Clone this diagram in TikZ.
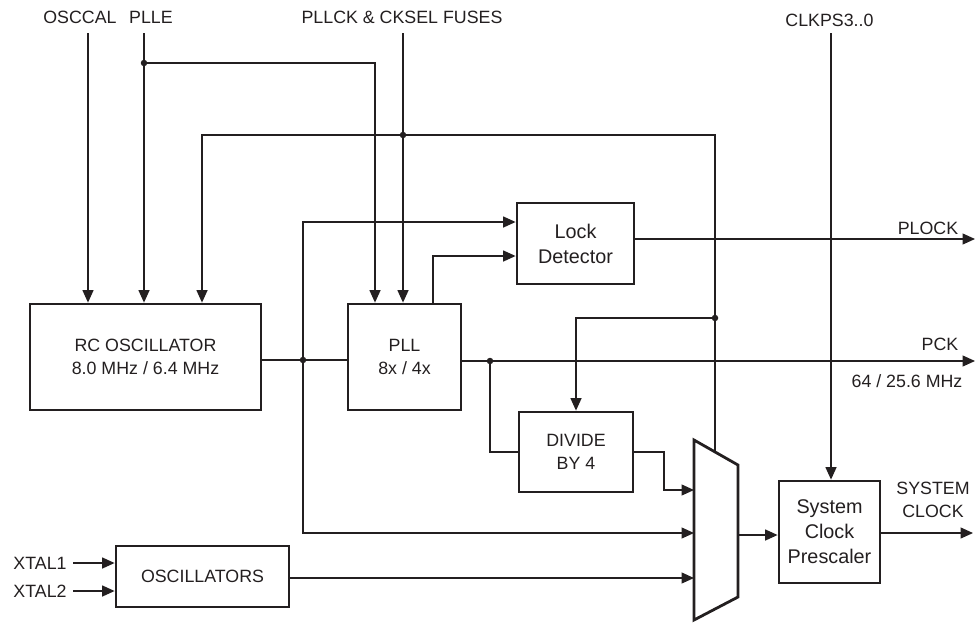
\documentclass[tikz,border=0pt]{standalone}
\usepackage{fontspec}
\setmainfont{Liberation Sans}
\usetikzlibrary{arrows.meta}
\begin{document}
\begin{tikzpicture}[x=1pt,y=-1pt]
\definecolor{ink}{HTML}{231F20}
\tikzset{
 blk/.style={draw=ink, text=ink, line width=2.8pt, align=center, inner sep=0pt, font=\fontsize{17.8}{23}\selectfont},
 blkl/.style={blk, font=\fontsize{19.8}{25}\selectfont},
 lbl/.style={inner sep=0pt, align=center, text=ink, font=\fontsize{17.8}{23}\selectfont},
 arr/.style={-{Triangle[length=12.5pt,width=11pt]}, line width=1.3pt, draw=ink},
 wire/.style={line width=1.3pt, draw=ink},
 dot/.style={circle, fill=ink, draw=none, inner sep=0pt, minimum size=6.5pt}
}
\useasboundingbox (0,0) rectangle (979,622);

% blocks
\node[blk, minimum width=231pt, minimum height=106pt] (rc) at (145.5,357) {RC OSCILLATOR\\8.0 MHz / 6.4 MHz};
\node[blk, minimum width=113pt, minimum height=106pt] (pll) at (404.5,357) {PLL\\8x / 4x};
\node[blkl, minimum width=117pt, minimum height=81pt] (lock) at (575.5,243.5) {Lock\\Detector};
\node[blk, minimum width=114pt, minimum height=80pt] (div) at (576,452) {DIVIDE\\BY 4};
\node[blkl, minimum width=101pt, minimum height=102pt] (pre) at (829.5,532) {System\\Clock\\Prescaler};
\node[blk, minimum width=173pt, minimum height=61pt] (osc) at (202.5,576.5) {OSCILLATORS};

% multiplexer
\draw[draw=ink, line width=2.8pt, line join=miter] (694,440) -- (738,465) -- (738,597) -- (694,620) -- cycle;
\coordinate (mTop) at (715,452);
\coordinate (mIn1) at (694,490);
\coordinate (mIn2) at (694,533);
\coordinate (mIn3) at (694,578);
\coordinate (mOut) at (738,535);

% labels
\node[lbl] (osccal) at (80,17) {OSCCAL};
\node[lbl] (plle) at (151,17) {PLLE};
\node[lbl] (fuses) at (402,17) {PLLCK \& CKSEL FUSES};
\node[lbl] (clkps) at (829.5,20) {CLKPS3..0};
\node[lbl] (plock) at (928,228) {PLOCK};
\node[lbl] (pck) at (940,344) {PCK};
\node[lbl] (freq) at (907,381) {64 / 25.6 MHz};
\node[lbl] (sys) at (933,499.5) {SYSTEM\\CLOCK};
\node[lbl] (x1) at (40,563) {XTAL1};
\node[lbl] (x2) at (40,591) {XTAL2};

% named points
\coordinate (tO) at (88,33);
\coordinate (tP) at (144,33);
\coordinate (tF) at (403,33);
\coordinate (tC) at (831,33);
\coordinate (j1) at (144,63);
\coordinate (pA) at (375,0);
\coordinate (j2) at (403,135);
\coordinate (cR) at (715,135);
\coordinate (rcC) at (202,0);
\coordinate (j3) at (715,318);
\coordinate (j4) at (303,360);
\coordinate (j5) at (490,361);
\coordinate (mk) at (664,490);
\coordinate (plockEnd) at (975,239);
\coordinate (pckEnd) at (975,361);
\coordinate (sysEnd) at (973,533);
\coordinate (x1a) at (73,563);
\coordinate (x2a) at (73,591);

% connectors
\draw[arr] (tO) -- (tO |- rc.north);
\draw[arr] (tP) -- (tP |- rc.north);
\draw[arr] (j1) -| (pA |- pll.north);
\draw[arr] (tF) -- (tF |- pll.north);
\draw[arr] (mTop) -- (cR) -| (rcC |- rc.north);
\draw[arr] (j3) -| (div.north);
\draw[wire] (rc.east |- j4) -- (pll.west |- j4);
\draw[arr] (j4) |- (lock.west |- 0,222);
\draw[arr] (j4) |- (mIn2);
\draw[arr] (pll.north -| 433,0) |- (lock.west |- 0,256);
\draw[arr] (lock.east |- plockEnd) -- (plockEnd);
\draw[arr] (pll.east |- pckEnd) -- (pckEnd);
\draw[wire] (j5) |- (div.west);
\draw[arr] (div.east) -| (mk) -- (mIn1);
\draw[arr] (osc.east |- mIn3) -- (mIn3);
\draw[arr] (mOut) -- (pre.west |- mOut);
\draw[arr] (tC) -- (tC |- pre.north);
\draw[arr] (pre.east |- sysEnd) -- (sysEnd);
\draw[arr] (x1a) -- (osc.west |- x1a);
\draw[arr] (x2a) -- (osc.west |- x2a);

% junction dots
\node[dot] at (j1) {};
\node[dot] at (j2) {};
\node[dot] at (j3) {};
\node[dot] at (j4) {};
\node[dot] at (j5) {};
\end{tikzpicture}
\end{document}
